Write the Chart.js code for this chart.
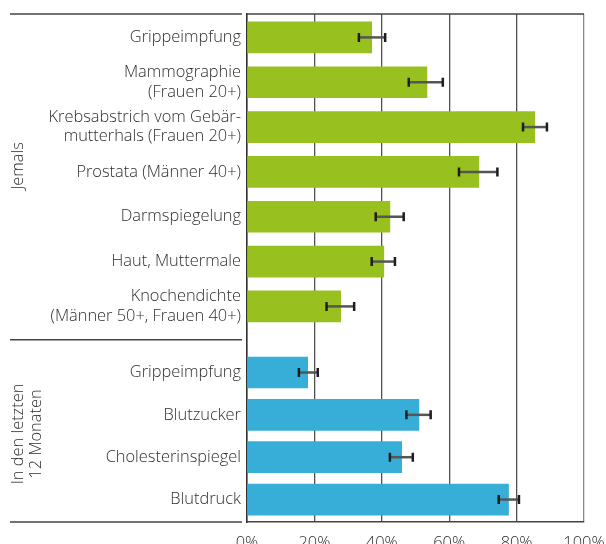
<!DOCTYPE html>
<html>
<head>
<meta charset="utf-8">
<script src="https://cdn.jsdelivr.net/npm/chart.js@4"></script>
<style>
  body { margin: 0; background: #fff; }
  #wrap { position: relative; width: 606px; height: 544px; overflow: hidden; }
  #oben, #unten { position: absolute; left: 0; display: block; }
  #oben { top: 0; }
  #unten { top: 339px; }
</style>
</head>
<body>
<div id="wrap">
  <canvas id="oben" width="606" height="339"></canvas>
  <canvas id="unten" width="606" height="205"></canvas>
</div>
<script>
// Vorsorgeuntersuchungen: "Jemals" und "In den letzten 12 Monaten" (Anteil in %)
const jemalsLabels = ['Grippeimpfung', ['Mammographie', '(Frauen 20+)'], ['Krebsabstrich vom Gebär-', 'mutterhals (Frauen 20+)'],
  'Prostata (Männer 40+)', 'Darmspiegelung', 'Haut, Muttermale', ['Knochendichte', '(Männer 50+, Frauen 40+)']];
const jemalsWerte = [37.0, 53.4, 85.4, 68.8, 42.4, 40.6, 27.8];
const jemalsUnten = [33.2, 48.0, 81.9, 62.9, 38.2, 37.0, 23.6];
const jemalsOben = [41.0, 58.1, 89.0, 74.3, 46.5, 43.9, 31.8];

const monateLabels = ['Grippeimpfung', 'Blutzucker', 'Cholesterinspiegel', 'Blutdruck'];
const monateWerte = [18.0, 51.0, 45.9, 77.6];
const monateUnten = [15.4, 47.3, 42.4, 74.7];
const monateOben = [21.0, 54.5, 49.2, 80.7];

const xTicks = [0, 20, 40, 60, 80, 100];

const GRUEN = '#98c11f';
const BLAU = '#36aed8';
const TEXT = '#2e2e2e';
const LINIE = '#444';
const FONT = "'Open Sans', sans-serif";
const GEWICHT = 300;
const GROESSE = 16.4;

// Fehlerbalken (Konfidenzintervall) an jedem Balken
const fehlerbalken = {
  id: 'fehlerbalken',
  afterDatasetsDraw(chart, args, opts) {
    const ctx = chart.ctx;
    const x = chart.scales.x;
    const meta = chart.getDatasetMeta(0);
    ctx.save();
    meta.data.forEach((bar, i) => {
      const x1 = x.getPixelForValue(opts.unten[i]);
      const x2 = x.getPixelForValue(opts.oben[i]);
      const y = bar.y;
      ctx.strokeStyle = '#555';
      ctx.lineWidth = 2.5;
      ctx.beginPath();
      ctx.moveTo(x1, y);
      ctx.lineTo(x2, y);
      ctx.stroke();
      ctx.strokeStyle = '#1e1e1e';
      ctx.lineWidth = 2.5;
      ctx.beginPath();
      ctx.moveTo(x1, y - 4.5);
      ctx.lineTo(x1, y + 4.5);
      ctx.moveTo(x2, y - 4.5);
      ctx.lineTo(x2, y + 4.5);
      ctx.stroke();
    });
    ctx.restore();
  }
};

// waagrechte Rahmenlinien links neben dem Diagramm und senkrechte Gruppentitel
const rahmen = {
  id: 'rahmen',
  afterDraw(chart, args, opts) {
    const ctx = chart.ctx;
    const a = chart.chartArea;
    ctx.save();
    ctx.strokeStyle = LINIE;
    ctx.lineWidth = 1.5;
    ctx.beginPath();
    (opts.linien || []).forEach(l => {
      const y = l.y === 'top' ? a.top : l.y === 'bottom' ? a.bottom : l.y;
      ctx.moveTo(10, y);
      ctx.lineTo(242, y);
      if (l.plot) {
        ctx.moveTo(a.left, y);
        ctx.lineTo(a.right, y);
      }
    });
    ctx.stroke();

    // Gruppentitel, um 90° gedreht
    const zeilen = [].concat(opts.titel);
    ctx.translate(18, opts.titelY);
    ctx.rotate(-Math.PI / 2);
    ctx.fillStyle = TEXT;
    ctx.font = GEWICHT + ' ' + GROESSE + 'px ' + FONT;
    ctx.textAlign = 'center';
    ctx.textBaseline = 'middle';
    zeilen.forEach((z, i) => ctx.fillText(z, 0, i * 18.5));
    ctx.restore();
  }
};

function diagramm(id, labels, werte, unten, oben, farbe, titel, titelY, yMin, yMax, mitAchse, linien, padding) {
  return new Chart(document.getElementById(id), {
    type: 'bar',
    data: {
      datasets: [{
        data: werte.map((v, i) => ({ x: v, y: i })),
        backgroundColor: farbe,
        barThickness: 31
      }]
    },
    options: {
      indexAxis: 'y',
      responsive: false,
      animation: false,
      layout: { padding: padding },
      plugins: {
        legend: { display: false },
        tooltip: { enabled: false },
        fehlerbalken: { unten: unten, oben: oben },
        rahmen: { linien: linien, titel: titel, titelY: titelY }
      },
      scales: {
        x: {
          type: 'linear',
          min: 0,
          max: 100,
          afterBuildTicks: s => { s.ticks = xTicks.map(v => ({ value: v })); },
          afterFit: s => {
            s.height = mitAchse ? 22 : 0;
            s.paddingLeft = 0;
            s.paddingRight = 0;
          },
          grid: {
            color: c => c.tick && c.tick.value === 100 ? '#8a8a8a' : '#505050',
            lineWidth: 1.3,
            drawTicks: false
          },
          border: { display: mitAchse, color: LINIE, width: 1.5 },
          ticks: {
            display: mitAchse,
            padding: 11,
            color: TEXT,
            font: { family: FONT, size: GROESSE, weight: GEWICHT },
            callback: v => v + '%'
          }
        },
        y: {
          type: 'linear',
          reverse: true,
          offset: false,
          min: yMin,
          max: yMax,
          afterBuildTicks: s => { s.ticks = labels.map((l, i) => ({ value: i })); },
          afterFit: s => {
            s.width = 247;
            s.paddingTop = 0;
            s.paddingBottom = 0;
          },
          grid: { display: false, drawTicks: false, offset: false },
          border: { display: true, color: '#333', width: 1.5 },
          ticks: {
            padding: 6,
            color: TEXT,
            font: { family: FONT, size: GROESSE, weight: GEWICHT, lineHeight: 1.17 },
            callback: v => labels[v]
          }
        }
      }
    },
    plugins: [fehlerbalken, rahmen]
  });
}

diagramm('oben', jemalsLabels, jemalsWerte, jemalsUnten, jemalsOben, GRUEN, 'Jemals', 166,
  -0.522, 6.727, false, [{ y: 'top', plot: true }], { top: 14, right: 22, left: 0, bottom: 0 });

diagramm('unten', monateLabels, monateWerte, monateUnten, monateOben, BLAU, ['In den letzten', '12 Monaten'], 95,
  -0.791, 3.53, true, [{ y: 0.75 }, { y: 'bottom' }], { top: 0, right: 22, left: 0, bottom: 0 });
</script>
</body>
</html>
